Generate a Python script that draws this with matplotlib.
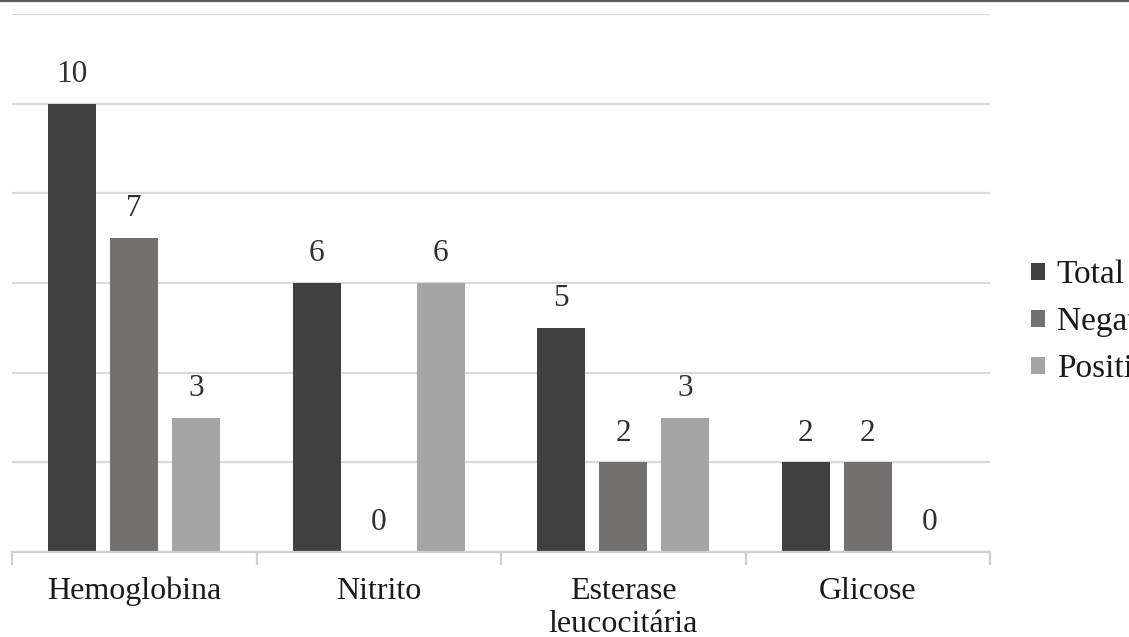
import matplotlib
matplotlib.use("Agg")
import matplotlib.pyplot as plt
import numpy as np
from matplotlib.lines import Line2D

categories = ["Hemoglobina", "Nitrito", "Esterase\nleucocitária", "Glicose"]
series_names = ["Total", "Negativo", "Positivo"]
total = [10, 6, 5, 2]
negativo = [7, 0, 2, 2]
positivo = [3, 6, 3, 0]

colors = ["#404040", "#767171", "#a5a5a5"]
text_color = "#303030"

plt.rcParams["font.family"] = ["Liberation Serif", "DejaVu Serif"]

fig = plt.figure(figsize=(11.29, 6.37), dpi=100)
ax = fig.add_axes([12 / 1129, 1 - 552 / 637, (990 - 12) / 1129, (552 - 14) / 637])

x = np.arange(len(categories))
step = 0.2536
width = 0.196
for j, (name, vals) in enumerate(zip(series_names, [total, negativo, positivo])):
    pos = x + (j - 1) * step
    ax.bar(pos, vals, width, color=colors[j], label=name, zorder=2)
    for xi, v in zip(pos, vals):
        ax.text(xi, v + 0.33, f"{v}", ha="center", va="bottom",
                fontsize=22.5, color=text_color, zorder=3)

ax.set_xlim(-0.5, len(categories) - 0.5)
ax.set_ylim(0, 12)
ax.set_yticks(np.arange(0, 13, 2))
ax.yaxis.grid(True, color="#d9d9d9", linewidth=1.6, zorder=0)
ax.set_axisbelow(True)
ax.tick_params(axis="y", left=False, labelleft=False)

for side in ("left", "right", "top"):
    ax.spines[side].set_visible(False)
ax.spines["bottom"].set_color("#d0d0d0")
ax.spines["bottom"].set_linewidth(1.6)

# category labels centred, boundary ticks between groups
ax.set_xticks(x)
ax.set_xticklabels(categories, fontsize=23, color="#1a1a1a", linespacing=1.2)
ax.tick_params(axis="x", length=0, pad=18)
ax.set_xticks(np.arange(-0.5, len(categories)), minor=True)
ax.tick_params(axis="x", which="minor", length=9, width=1.6, color="#d0d0d0")

leg = fig.legend(loc="center left", bbox_to_anchor=(1031 / 1129, 1 - 322 / 637),
                 frameon=False, fontsize=24, handlelength=0.42, handleheight=0.42,
                 handletextpad=0.35, labelspacing=0.5, borderpad=0, borderaxespad=0)
for t in leg.get_texts():
    t.set_color("#1a1a1a")

# page border along the top edge
fig.add_artist(Line2D([0, 1], [0.999, 0.999], transform=fig.transFigure,
                      color="#5a5a5a", linewidth=1.6))

fig.savefig("out.png", dpi=100)
